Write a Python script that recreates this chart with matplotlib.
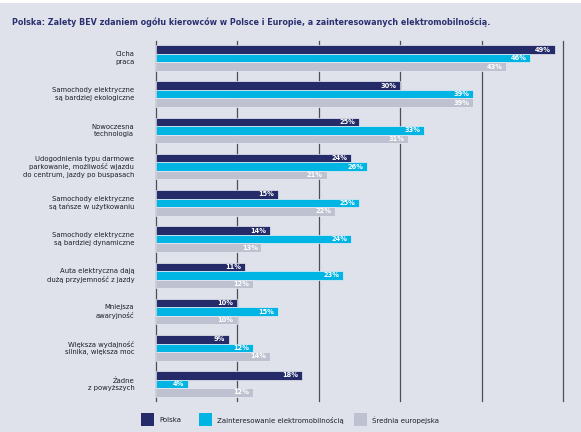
import matplotlib.pyplot as plt
import matplotlib.patches as mpatches
import numpy as np

categories = [
    "Cicha\npraca",
    "Samochody elektryczne\nsą bardziej ekologiczne",
    "Nowoczesna\ntechnologia",
    "Udogodnienia typu darmowe\nparkowanie, możliwość wjazdu\ndo centrum, jazdy po buspasach",
    "Samochody elektryczne\nsą tańsze w użytkowaniu",
    "Samochody elektryczne\nsą bardziej dynamiczne",
    "Auta elektryczna dają\ndużą przyjemność z jazdy",
    "Mniejsza\nawaryjność",
    "Większa wydajność\nsilnika, większa moc",
    "Żadne\nz powyższych",
]
polska = [49, 30, 25, 24, 15, 14, 11, 10, 9, 18]
zainteresowani = [46, 39, 33, 26, 25, 24, 23, 15, 12, 4]
europa = [43, 39, 31, 21, 22, 13, 12, 10, 14, 12]
series_names = ["Polska", "Zainteresowanie elektromobilnością", "Średnia europejska"]

navy = "#252b68"
cyan = "#00b4e4"
grey = "#bec1cf"
bg = "#dfe2eb"
text_col = "#1e1e2a"

fig = plt.figure(figsize=(5.81, 4.32), dpi=100)
fig.patch.set_facecolor("white")
fig.patches.append(mpatches.Rectangle((0, 0), 1, 1 - 3 / 432, transform=fig.transFigure,
                                      facecolor=bg, edgecolor="none", zorder=-10))

ax = fig.add_axes([155.5 / 581, 1 - 401 / 432, (563 - 155.5) / 581, (401 - 41) / 432])
ax.set_facecolor("none")

y = np.arange(len(categories))
h = 0.235
for vals, off, col in [(polska, -h, navy), (zainteresowani, 0, cyan), (europa, h, grey)]:
    bars = ax.barh(y + off, vals, height=h, color=col, edgecolor="#e9ecf3",
                   linewidth=0.5, zorder=3)
    for b, v in zip(bars, vals):
        ax.text(b.get_width() - 0.45, b.get_y() + b.get_height() / 2, f"{v}%",
                ha="right", va="center", color="white", fontsize=4.8,
                fontweight="bold", zorder=4)

ax.set_xlim(0, 50)
ax.set_ylim(len(categories) - 0.53, -0.47)
ax.set_xticks([0, 10, 20, 30, 40, 50])
ax.xaxis.grid(True, color="#4d4f57", linewidth=0.9, zorder=0)
for gl in ax.get_xgridlines():
    gl.set_clip_on(False)
ax.tick_params(left=False, bottom=False, labelbottom=False, labelleft=False)
for s in ax.spines.values():
    s.set_visible(False)

for yi, lab in zip(y, categories):
    ax.text(-2.6, yi, lab, ha="right", va="center", fontsize=4.95, color=text_col,
            linespacing=1.3)

fig.text(12 / 581, 1 - 22 / 432,
         "Polska: Zalety BEV zdaniem ogółu kierowców w Polsce i Europie, a zainteresowanych elektromobilnością.",
         ha="left", va="center", fontsize=5.75, fontweight="bold", color="#2b3070")

# legenda
for x0, col, name in [(141, navy, series_names[0]), (199, cyan, series_names[1]),
                      (354, grey, series_names[2])]:
    fig.patches.append(mpatches.Rectangle((x0 / 581, 1 - 426 / 432), 13 / 581, 13 / 432,
                                          transform=fig.transFigure, facecolor=col,
                                          edgecolor="none"))
    fig.text((x0 + 18) / 581, 1 - 420 / 432, name, ha="left", va="center",
             fontsize=5.0, color=text_col)

fig.savefig("out.png", dpi=100, facecolor=fig.get_facecolor())
